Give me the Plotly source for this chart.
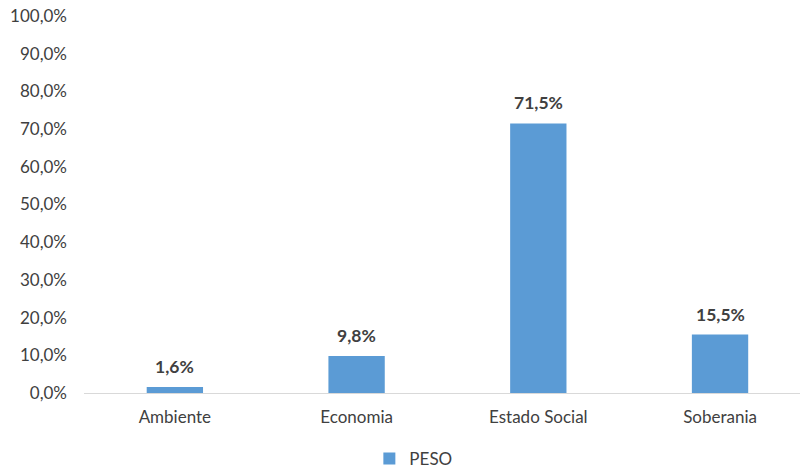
import plotly.graph_objects as go

categories = ["Ambiente", "Economia", "Estado Social", "Soberania"]
peso = [1.6, 9.8, 71.5, 15.5]
tick_vals = [0, 10, 20, 30, 40, 50, 60, 70, 80, 90, 100]
tick_text = ["0,0%", "10,0%", "20,0%", "30,0%", "40,0%", "50,0%", "60,0%", "70,0%", "80,0%", "90,0%", "100,0%"]
labels = ["1,6%", "9,8%", "71,5%", "15,5%"]

FONT = "Lato"
fig = go.Figure()
fig.add_trace(go.Bar(x=list(range(len(categories))), y=peso, name="PESO",
                     marker=dict(color="#5B9BD5", line=dict(width=0)),
                     width=0.31))
for i, (v, t) in enumerate(zip(peso, labels)):
    fig.add_annotation(x=i, y=v, text="<b>%s</b>" % t, showarrow=False,
                       yanchor="bottom", yshift=8,
                       font=dict(family=FONT, size=17.5, color="#404040"))

fig.update_layout(
    width=800, height=469,
    margin=dict(l=84, r=0, t=16, b=76, autoexpand=False),
    plot_bgcolor="white", paper_bgcolor="white",
    font=dict(family=FONT, size=17, color="#404040"),
    showlegend=True,
    legend=dict(orientation="h", x=0.46, xanchor="center", y=-0.175, yanchor="middle",
                itemwidth=30,
                font=dict(family=FONT, size=17, color="#404040")),
    bargap=0.7,
)
fig.update_xaxes(tickvals=list(range(len(categories))), ticktext=categories,
                 range=[-0.5, 3.44], showline=True, linecolor="#D9D9D9", linewidth=1,
                 showgrid=False, ticks="", automargin=False, ticklabelstandoff=9,
                 tickfont=dict(family=FONT, size=17, color="#404040"))
fig.update_yaxes(range=[0, 100], tickvals=tick_vals, ticktext=tick_text,
                 showgrid=False, zeroline=False, showline=False, ticks="",
                 automargin=False, ticklabelstandoff=16,
                 tickfont=dict(family=FONT, size=17, color="#404040"))
fig.write_html("out.html", post_script="document.body.style.margin='0';",
               config={"displayModeBar": False})
